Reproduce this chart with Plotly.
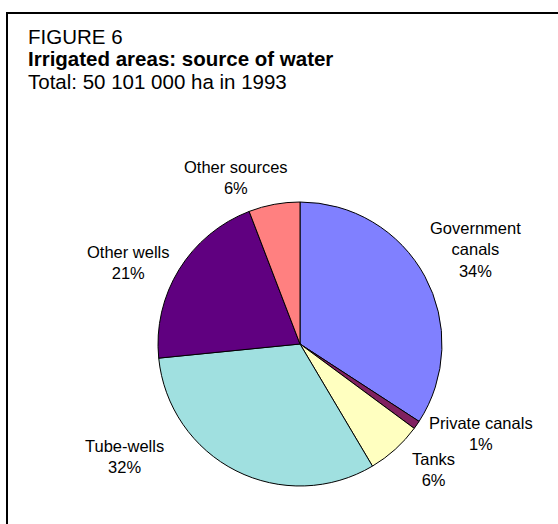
import plotly.graph_objects as go

# irrigated area by source of water, 1000 ha (1993)
sources = ["Government canals", "Private canals", "Tanks", "Tube-wells", "Other wells", "Other sources"]
areas = [17120, 480, 3180, 16000, 10400, 2920]
colors = ["#8080FF", "#802060", "#FFFFC0", "#A0E0E0", "#600080", "#FF8080"]

# label text as drawn on the chart
label_names = ["Government<br>canals", "Private canals", "Tanks", "Tube-wells", "Other wells", "Other sources"]
label_px = [(476, 249), (481, 433), (433, 469), (124, 456), (128, 262), (236, 177)]

title_lines = ["FIGURE 6", "<b>Irrigated areas: source of water</b>", "Total: 50 101 000 ha in 1993"]
title_py = [36, 58, 81]

W, H = 558, 524
total = sum(areas)

fig = go.Figure(go.Pie(
    labels=sources,
    values=areas,
    sort=False,
    direction="clockwise",
    rotation=0,
    marker=dict(colors=colors, line=dict(color="black", width=1)),
    textinfo="none",
    hoverinfo="label+percent",
    domain=dict(x=[158 / W, 442 / W], y=[1 - 486 / H, 1 - 202 / H]),
    showlegend=False,
))

family = "Arial, Liberation Sans, sans-serif"

for name, a, (px, py) in zip(label_names, areas, label_px):
    fig.add_annotation(
        x=px / W, y=1 - py / H, xref="paper", yref="paper",
        text=f"{name}<br>{round(a / total * 100)}%",
        showarrow=False, xanchor="center", yanchor="middle", align="center",
        font=dict(family=family, size=16.5, color="black"),
    )

for line, py in zip(title_lines, title_py):
    fig.add_annotation(
        x=26 / W, y=1 - py / H, xref="paper", yref="paper",
        text=line, showarrow=False, xanchor="left", yanchor="middle",
        font=dict(family=family, size=20.5, color="black"),
    )

# frame (only left and top edges fall inside the picture)
fig.add_shape(type="rect", xref="paper", yref="paper",
              x0=7 / W, x1=1.05, y0=-0.05, y1=1 - 13 / H,
              line=dict(color="black", width=2))

fig.update_layout(
    width=W, height=H,
    margin=dict(l=0, r=0, t=0, b=0),
    paper_bgcolor="white",
    plot_bgcolor="white",
)

# drop the page's default body margin so the chart sits at the window corner
fig.write_html("out.html", config={"displayModeBar": False},
               post_script="document.body.style.margin='0';")
